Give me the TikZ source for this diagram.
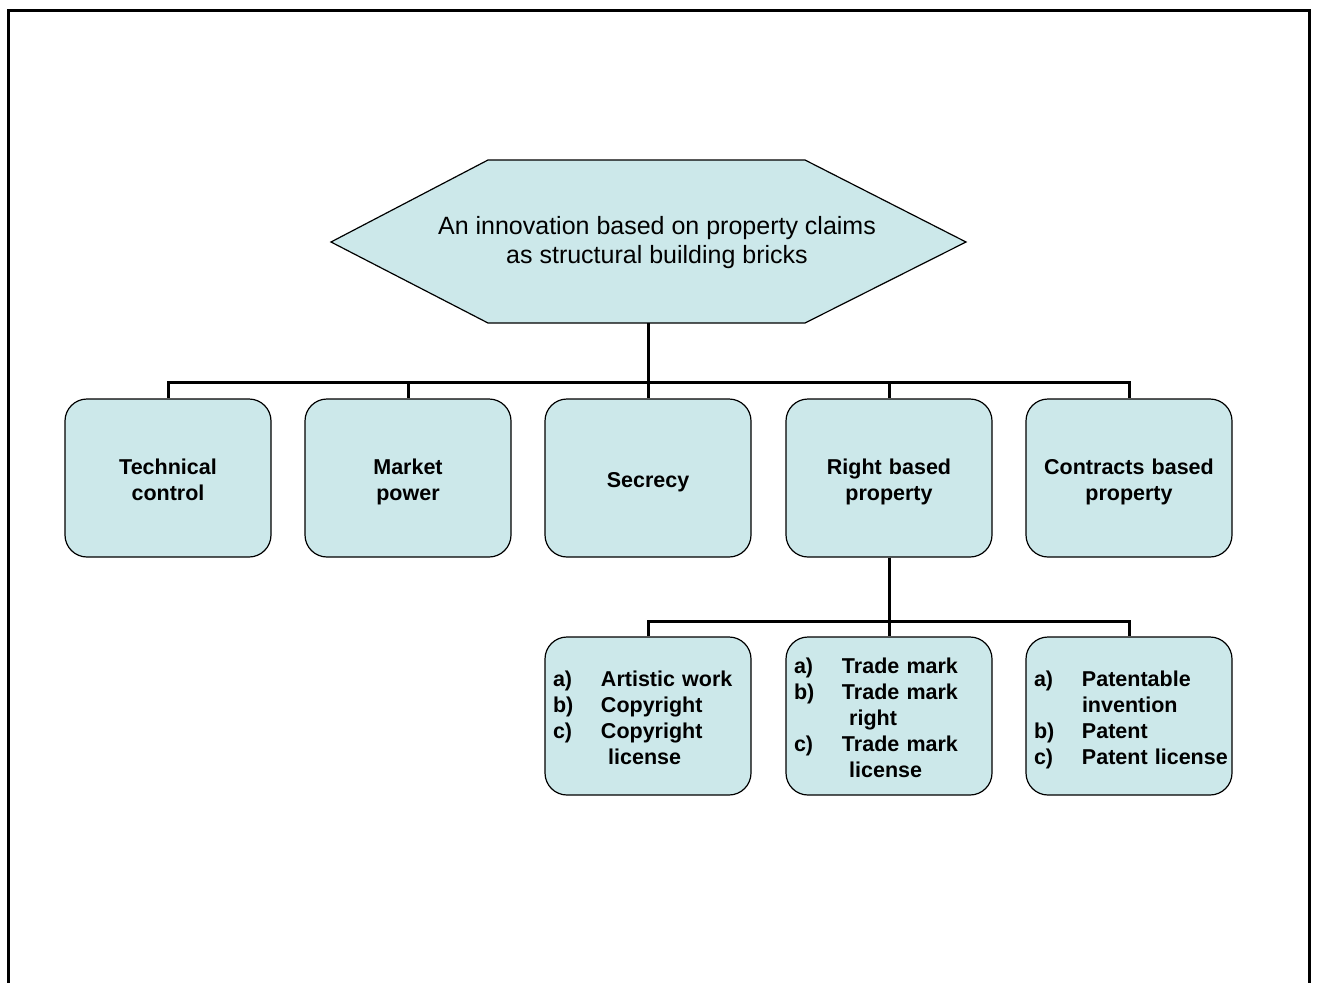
\documentclass[tikz,border=0pt]{standalone}
\usepackage{fontspec}
\setmainfont{Liberation Sans}
\usetikzlibrary{backgrounds}

\definecolor{brickcyan}{RGB}{204,232,234}
\newcommand{\itm}[2]{\mbox{\makebox[48pt][l]{#1}#2}}

\begin{document}
\begin{tikzpicture}[x=1pt, y=-1pt,
    brick/.style={draw, fill=brickcyan, line width=1.2pt, rounded corners=22pt,
        minimum width=206pt, minimum height=158pt, align=center,
        text width=190pt, inner xsep=8pt,
        font=\bfseries\fontsize{21.5}{26}\selectfont,
        execute at begin node=\rule{0pt}{27pt}, execute at end node=\strut},
    listbrick/.style={brick, align=left},
    link/.style={line width=3pt}]

    \useasboundingbox (0,0) rectangle (1318,983);

    % Frame
    \draw[line width=3pt] (8,983) -- (8,10.5) -- (1309,10.5) -- (1309,983);

    % Claim hexagon
    \node (claim) [inner sep=0pt, align=center,
        font=\fontsize{25}{29}\selectfont] at (657,243)
        {An innovation based on property claims\\as structural building bricks};
    \begin{scope}[on background layer]
        \draw[fill=brickcyan, line width=1.2pt]
            ([shift={(-169,-83)}]claim.center) -- ([shift={(148,-83)}]claim.center)
            -- ([shift={(309,-1)}]claim.center) -- ([shift={(148,80)}]claim.center)
            -- ([shift={(-169,80)}]claim.center) -- ([shift={(-326,-1)}]claim.center) -- cycle;
    \end{scope}
    \coordinate (claimfoot) at ([shift={(-9,80)}]claim.center);

    % First level
    \node (tc) [brick] at (168,478) {Technical\\control};
    \node (mp) [brick] at (408,478) {Market\\power};
    \node (se) [brick] at (648,478) {Secrecy};
    \node (rb) [brick] at (889,478) {Right based\\property};
    \node (cb) [brick] at (1129,478) {Contracts based\\property};

    \foreach \b in {tc,mp,se,rb,cb}
        \draw[link] (claimfoot) -- ++(0,59) -| (\b.north);

    % Second level
    \node (cr) [listbrick] at (648,716)
        {\itm{a)}{Artistic work}\\\itm{b)}{Copyright}\\\itm{c)}{Copyright}\\\itm{}{\ license}};
    \node (tm) [listbrick] at (889,716)
        {\itm{a)}{Trade mark}\\\itm{b)}{Trade mark}\\\itm{}{\ right}\\\itm{c)}{Trade mark}\\\itm{}{\ license}};
    \node (pt) [listbrick] at (1129,716)
        {\itm{a)}{Patentable}\\\itm{}{invention}\\\itm{b)}{Patent}\\\itm{c)}{Patent license}};

    \foreach \b in {cr,tm,pt}
        \draw[link] (rb.south) -- ++(0,64) -| (\b.north);

\end{tikzpicture}
\end{document}
